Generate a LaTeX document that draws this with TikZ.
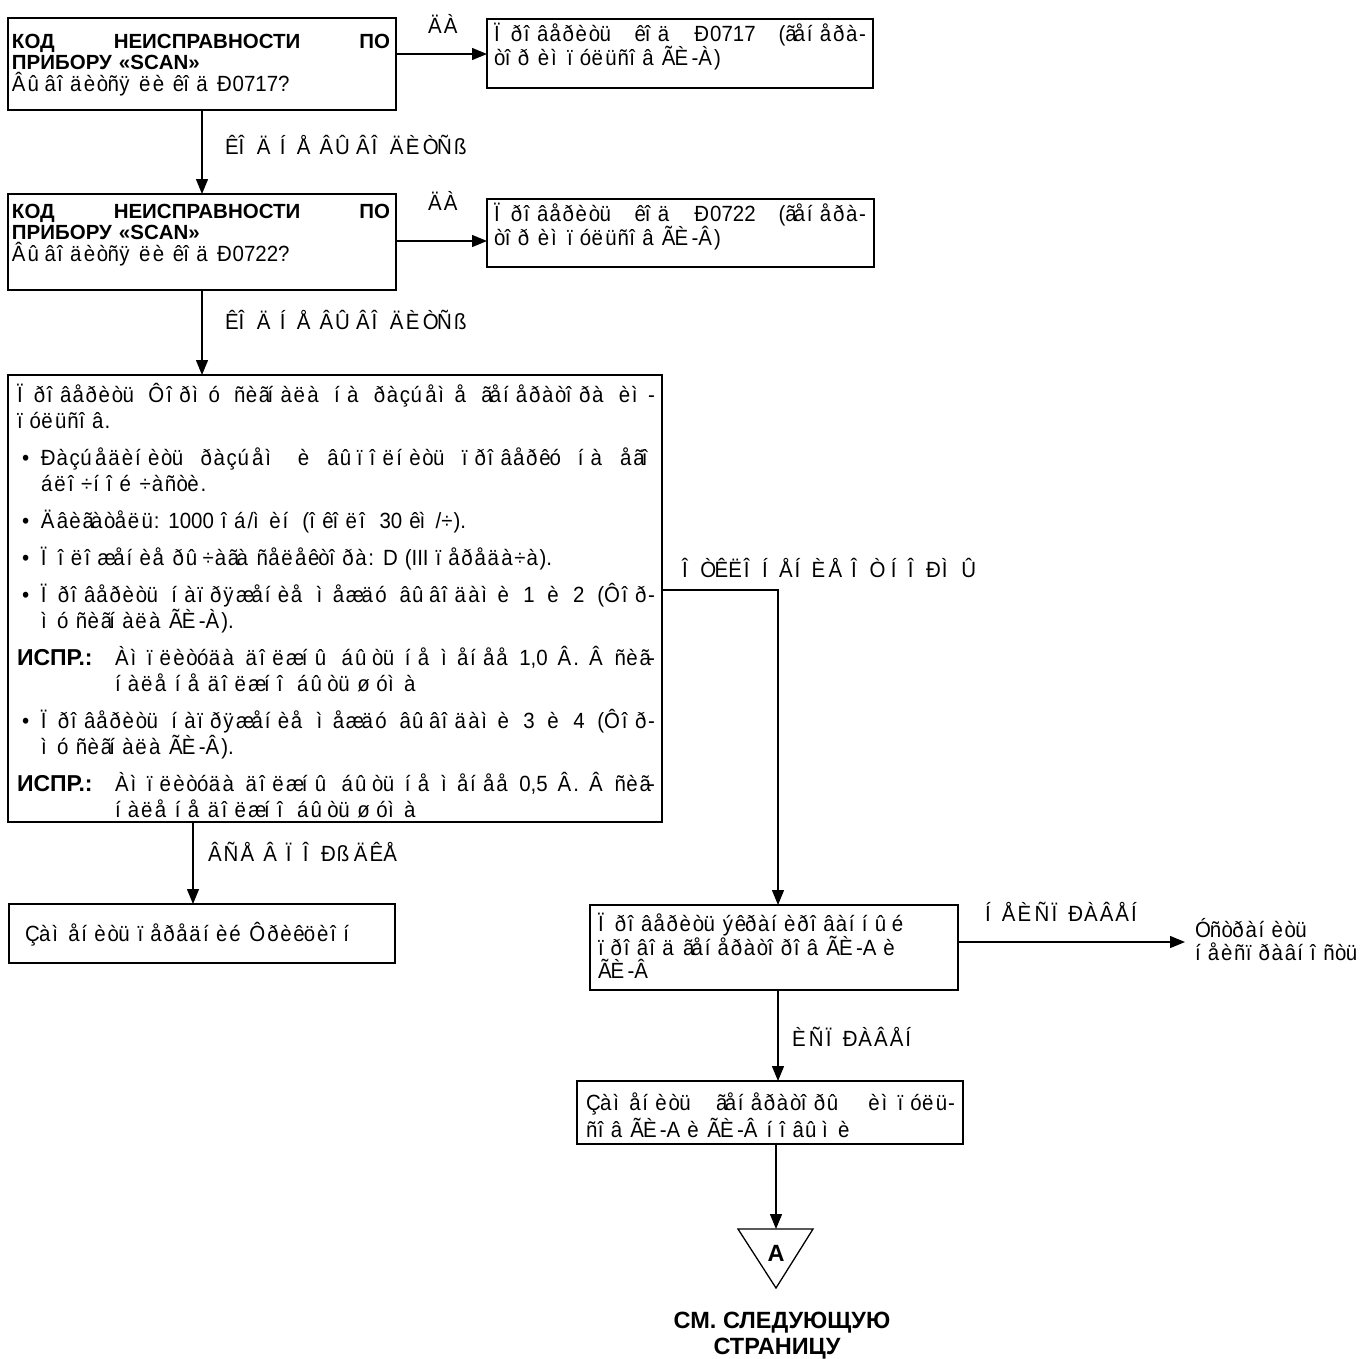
\documentclass[tikz,border=0pt]{standalone}
\usepackage{fontspec}
\setmainfont{Liberation Sans}
\newfontfamily\nar[FakeStretch=0.93]{Liberation Sans}
\usetikzlibrary{arrows.meta}

% Text set in a cp1251 font read as Latin-1: every character U+00C0..U+00FF
% is drawn with its own glyph but advances by the width of the Cyrillic
% letter that shares its code.
\font\widf="Liberation Sans" at 23.5pt
\newbox\mjb
\def\mjc#1#2{\setbox\mjb\hbox{\widf\char#1\relax}\hbox to\wd\mjb{\char#2\relax\hss}}
\newcount\mjn
\mjn="C0
\loop
  \begingroup\lccode`\~=\mjn
  \lowercase{\endgroup\edef~}{\noexpand\mjc{\the\numexpr\mjn+"350\relax}{\the\mjn}}%
  \catcode\mjn=\active
  \advance\mjn 1
\ifnum\mjn<"100 \repeat

% fonts for node texts
\newcommand\txtfont{\nar\fontsize{22}{22}\selectfont\spaceskip=7pt plus 2pt minus 1pt\relax}
\newcommand\hdfont{\fontsize{23.5}{22}\selectfont\bfseries}
\newcommand\bxhead{\normalfont\fontsize{20.5}{21}\selectfont\bfseries}
\newcommand\fixhead{\normalfont\fontsize{23}{22}\selectfont\bfseries}

% line builders used inside \vtop blocks
\newcommand\F{\hskip 7pt plus 1fill\relax}
\newcommand\pl[1]{\hbox to\hsize{#1\hfil}}
\newcommand\bl[1]{\hbox to\hsize{\hbox to 24pt{\hspace{5pt}•\hss}#1\hfil}}
\newcommand\cl[1]{\hbox to\hsize{\hspace{24pt}#1\hfil}}
\newcommand\fl[2]{\hbox to\hsize{\hbox to 98pt{\fixhead #1\hss}#2\hfil}}
\newcommand\blk[3]{\vtop{\hsize=#1\relax\baselineskip=#2\relax #3}}

\begin{document}
\begin{tikzpicture}[x=1pt,y=-1pt,
  bx/.style={draw=black, line width=1.6pt, inner sep=0pt, outer sep=0pt, anchor=north west},
  txt/.style={inner sep=0pt, outer sep=0pt, anchor=base west, font=\txtfont},
  ctxt/.style={inner sep=0pt, outer sep=0pt, anchor=base, font=\hdfont},
  arr/.style={line width=1.3pt, -{Triangle[length=15pt,width=12pt]}}]
\useasboundingbox[fill=white] (0,0) rectangle (1364,1358);

% ---- boxes ----
\node[bx, minimum width=388pt, minimum height=92pt] (b1) at (8,18) {};
\node[bx, minimum width=386pt, minimum height=69pt] (r1) at (487,19) {};
\node[bx, minimum width=388pt, minimum height=96pt] (b2) at (8,194) {};
\node[bx, minimum width=387pt, minimum height=68pt] (r2) at (487,199) {};
\node[bx, minimum width=654pt, minimum height=447pt] (big) at (8,375) {};
\node[bx, minimum width=386pt, minimum height=59pt] (lb) at (9,904) {};
\node[bx, minimum width=368pt, minimum height=85pt] (sc) at (590,905) {};
\node[bx, minimum width=386pt, minimum height=63pt] (fx) at (577,1081) {};

% ---- box texts ----
\node[txt] (b1t) at (12,48) {\blk{378pt}{21.5pt}{%
  \pl{\bxhead КОД\F НЕИСПРАВНОСТИ\F ПО}%
  \pl{\bxhead ПРИБОРУ «SCAN»}%
  \pl{Âûâîäèòñÿ ëè êîä Ð0717?}}};
\node[txt] (r1t) at (494,41) {\blk{372pt}{22pt}{%
  \pl{Ïðîâåðèòü\F êîä\F Ð0717\F (ãåíåðà-}%
  \pl{òîð èìïóëüñîâ ÃÈ-À)}}};
\node[txt] (b2t) at (12,218) {\blk{378pt}{21.5pt}{%
  \pl{\bxhead КОД\F НЕИСПРАВНОСТИ\F ПО}%
  \pl{\bxhead ПРИБОРУ «SCAN»}%
  \pl{Âûâîäèòñÿ ëè êîä Ð0722?}}};
\node[txt] (r2t) at (494,221) {\blk{372pt}{21pt}{%
  \pl{Ïðîâåðèòü\F êîä\F Ð0722\F (ãåíåðà-}%
  \pl{òîð èìïóëüñîâ ÃÈ-Â)}}};
\node[txt] (bigt) at (17,402) {\blk{638pt}{26pt}{%
  \pl{Ïðîâåðèòü\F Ôîðìó\F ñèãíàëà\F íà\F ðàçúåìå\F ãåíåðàòîðà\F èì-}%
  \pl{ïóëüñîâ.}\vskip 11pt
  \bl{Ðàçúåäèíèòü\F ðàçúåì\F è\F âûïîëíèòü\F ïðîâåðêó\F íà\F åãî}%
  \cl{áëî÷íîé ÷àñòè.}\vskip 11pt
  \bl{Äâèãàòåëü: 1000 îá/ìèí (îêîëî 30 êì/÷).}\vskip 11pt
  \bl{Ïîëîæåíèå ðû÷àãà ñåëåêòîðà: D (III ïåðåäà÷à).}\vskip 11pt
  \bl{Ïðîâåðèòü\F íàïðÿæåíèå\F ìåæäó\F âûâîäàìè\F 1\F è\F 2\F (Ôîð-}%
  \cl{ìó ñèãíàëà ÃÈ-À).}\vskip 11pt
  \fl{ИСПР.:}{Àìïëèòóäà\F äîëæíû\F áûòü\F íå\F ìåíåå\F 1,0\F Â.\F Â\F ñèã-}%
  \cl{\hspace{74pt}íàëå íå äîëæíî áûòü øóìà}\vskip 11pt
  \bl{Ïðîâåðèòü\F íàïðÿæåíèå\F ìåæäó\F âûâîäàìè\F 3\F è\F 4\F (Ôîð-}%
  \cl{ìó ñèãíàëà ÃÈ-Â).}\vskip 11pt
  \fl{ИСПР.:}{Àìïëèòóäà\F äîëæíû\F áûòü\F íå\F ìåíåå\F 0,5\F Â.\F Â\F ñèã-}%
  \cl{\hspace{74pt}íàëå íå äîëæíî áûòü øóìà}}};
\node[txt] (lbt) at (25,941) {Çàìåíèòü ïåðåäíèé Ôðèêöèîí};
\node[txt] (sct) at (598,931) {\blk{350pt}{23pt}{%
  \pl{Ïðîâåðèòü ýêðàíèðîâàííûé}%
  \pl{ïðîâîä ãåíåðàòîðîâ ÃÈ-A è}%
  \pl{ÃÈ-Â}}};
\node[txt] (fxt) at (586,1110) {\blk{369pt}{27pt}{%
  \pl{Çàìåíèòü\F ãåíåðàòîðû\F èìïóëü-}%
  \pl{ñîâ ÃÈ-A è ÃÈ-Â íîâûìè}}};

% ---- connector guides ----
\coordinate (ya1) at (0,54);
\coordinate (ya2) at (0,241);
\coordinate (yb) at (0,590);
\coordinate (xb) at (778,0);
\coordinate (xl) at (193,0);
\coordinate (ys) at (0,942);
\coordinate (out) at (1185,942);

% ---- connectors ----
\draw[arr] (b1.east |- ya1) -- (r1.west |- ya1);
\draw[arr] (b1.south) -- (b2.north);
\draw[arr] (b2.east |- ya2) -- (r2.west |- ya2);
\draw[arr] (b2.south) -- (b2.south |- big.north);
\draw[arr] (big.south -| xl) -- (lb.north -| xl);
\draw[arr] (big.east |- yb) -| (sc.north -| xb);
\draw[arr] (sc.east |- ys) -- (out);
\draw[arr] (sc.south -| xb) -- (fx.north -| xb);

% ---- off-page connector ----
\coordinate (t1) at (738,1229);
\coordinate (t2) at (813,1229);
\coordinate (t3) at (776,1288);
\coordinate (tt) at (776,1229);
\draw[arr] (fx.south -| tt) -- (tt);
\draw[line width=1.3pt, line join=miter] (t1) -- (t2) -- (t3) -- cycle;
\node[ctxt] (ta) at (776,1261) {A};

% ---- labels ----
\node[txt] (l1) at (428,33) {ÄÀ};
\node[txt] (l2) at (225,154) {ÊÎÄ ÍÅ ÂÛÂÎÄÈÒÑß};
\node[txt] (l3) at (428,210) {ÄÀ};
\node[txt] (l4) at (225,329) {ÊÎÄ ÍÅ ÂÛÂÎÄÈÒÑß};
\node[txt] (l5) at (682,577) {ÎÒÊËÎÍÅÍÈÅ ÎÒ ÍÎÐÌÛ};
\node[txt] (l6) at (208,861) {ÂÑÅ Â ÏÎÐßÄÊÅ};
\node[txt] (l7) at (985,921) {ÍÅÈÑÏÐÀÂÅÍ};
\node[txt] (l8) at (1195,937) {Óñòðàíèòü};
\node[txt] (l9) at (1195,960) {íåèñïðàâíîñòü};
\node[txt] (l10) at (792,1046) {ÈÑÏÐÀÂÅÍ};
\node[ctxt] (n1) at (782,1328) {СМ. СЛЕДУЮЩУЮ};
\node[ctxt] (n2) at (777,1354) {СТРАНИЦУ};
\end{tikzpicture}
\end{document}
